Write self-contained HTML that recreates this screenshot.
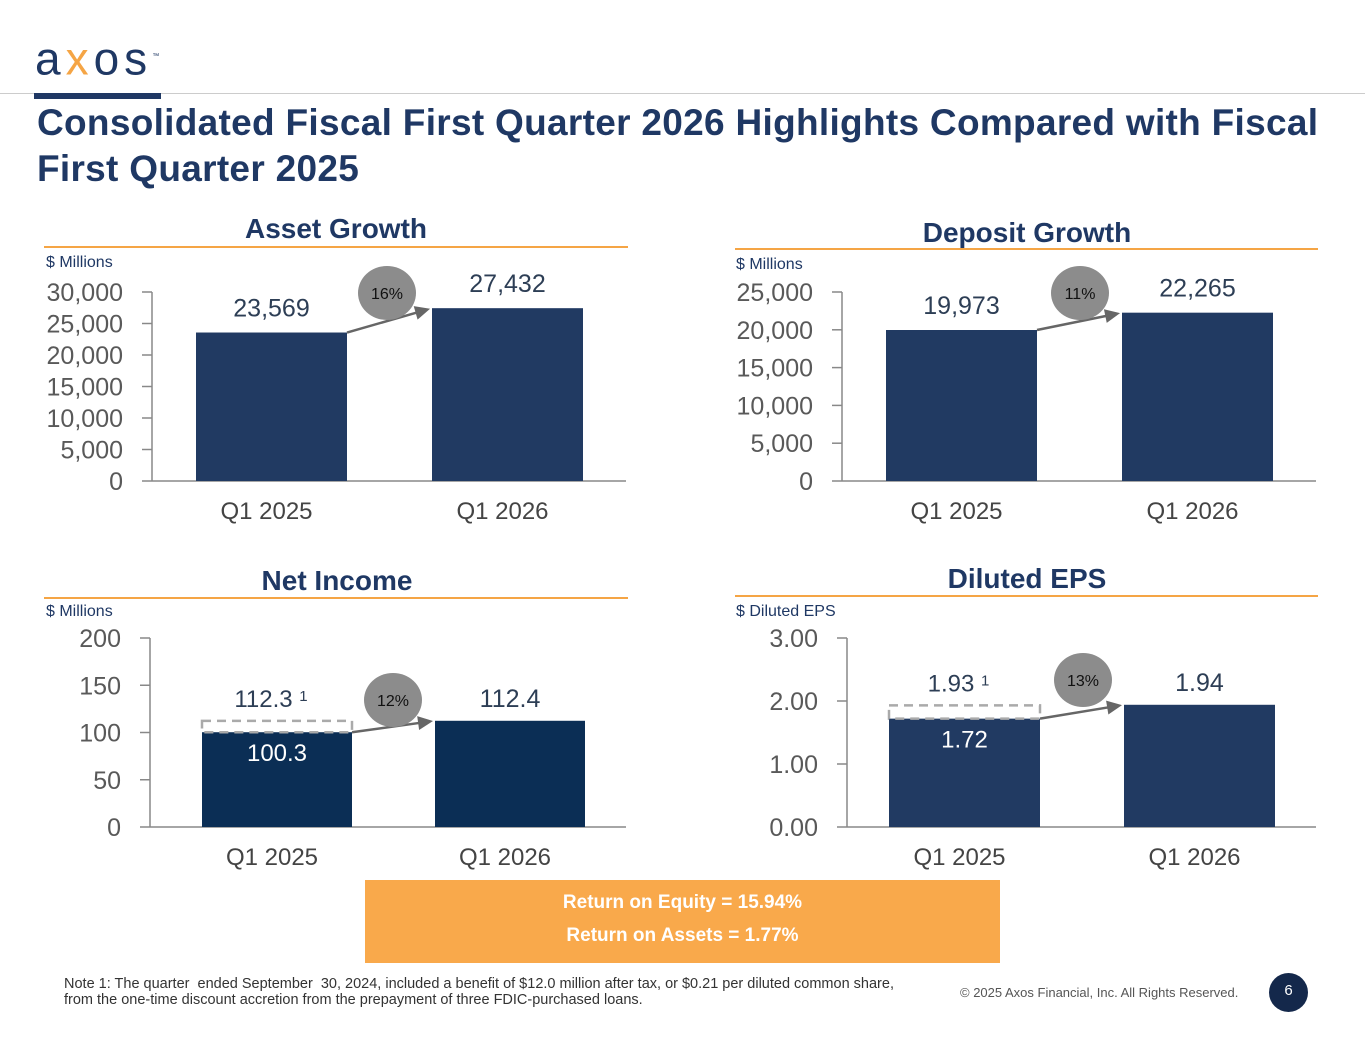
<!DOCTYPE html>
<html><head><meta charset="utf-8">
<style>
body{margin:0;background:#fff;font-family:"Liberation Sans",sans-serif;}
#page{position:relative;width:1365px;height:1055px;overflow:hidden;background:#fff;}
.abs{position:absolute;}
.title{left:37px;top:100px;font-size:37px;font-weight:bold;color:#1f3864;line-height:46px;letter-spacing:0.3px;white-space:nowrap;}
.sec{font-size:28px;font-weight:bold;color:#1f3864;text-align:center;width:400px;}
.uline{height:2px;background:#f5a545;}
.unit{font-size:16px;color:#1f3864;}
</style></head>
<body>
<div id="page">
  <div class="abs" style="left:35px;top:34px;font-size:46px;color:#1f3864;letter-spacing:5px;line-height:46px;">a<span style="color:#f5a545">x</span>os<sup style="font-size:7px;letter-spacing:0">™</sup></div>
  <div class="abs" style="left:0;top:93px;width:1365px;height:1px;background:#ccc;"></div>
  <div class="abs" style="left:34px;top:93px;width:127px;height:6px;background:#1f3864;"></div>
  <div class="abs title">Consolidated Fiscal First Quarter 2026 Highlights Compared with Fiscal<br>First Quarter 2025</div>

  <div class="abs sec" style="left:136px;top:213px;">Asset Growth</div>
  <div class="abs uline" style="left:44px;top:246px;width:584px;"></div>
  <div class="abs unit" style="left:46px;top:254px;">$ Millions</div>

  <div class="abs sec" style="left:827px;top:217px;">Deposit Growth</div>
  <div class="abs uline" style="left:735px;top:248px;width:583px;"></div>
  <div class="abs unit" style="left:736px;top:256px;">$ Millions</div>

  <div class="abs sec" style="left:137px;top:565px;">Net Income</div>
  <div class="abs uline" style="left:44px;top:597px;width:584px;"></div>
  <div class="abs unit" style="left:46px;top:603px;">$ Millions</div>

  <div class="abs sec" style="left:827px;top:563px;">Diluted EPS</div>
  <div class="abs uline" style="left:735px;top:595px;width:583px;"></div>
  <div class="abs unit" style="left:736px;top:603px;">$ Diluted EPS</div>

  <svg id="charts" class="abs" style="left:0;top:0" width="1365" height="1055"></svg>

  <div class="abs" style="left:365px;top:880px;width:635px;height:83px;background:#f9a94b;color:#fff;font-weight:bold;font-size:19px;text-align:center;">
    <div style="margin-top:12px;">Return on Equity = 15.94%</div>
    <div style="margin-top:11px;">Return on Assets = 1.77%</div>
  </div>
  <div class="abs" style="left:64px;top:976px;font-size:14.5px;color:#333;line-height:16px;white-space:nowrap;">Note 1: The quarter&nbsp; ended September&nbsp; 30, 2024, included a benefit of $12.0 million after tax, or $0.21 per diluted common share,<br>from the one-time discount accretion from the prepayment of three FDIC-purchased loans.</div>
  <div class="abs" style="left:960px;top:985px;font-size:13px;color:#555;">© 2025 Axos Financial, Inc. All Rights Reserved.</div>
  <div class="abs" style="left:1269px;top:973px;width:39px;height:39px;border-radius:50%;background:#14284b;color:#fff;font-size:15px;text-align:center;line-height:36px;">6</div>
</div>
<script>
const categories = ["Q1 2025","Q1 2026"];
const assetValues = [23569, 27432];
const assetTicks = [0,5000,10000,15000,20000,25000,30000];
const depositValues = [19973, 22265];
const depositTicks = [0,5000,10000,15000,20000,25000];
const netIncomeValues = [100.3, 112.4];
const netIncomeAdjusted = [112.3];
const netIncomeTicks = [0,50,100,150,200];
const epsValues = [1.72, 1.94];
const epsAdjusted = [1.93];
const epsTicks = [0.00,1.00,2.00,3.00];
const growthLabels = ["16%","11%","12%","13%"];

const NS="http://www.w3.org/2000/svg";
const svg=document.getElementById('charts');
function mk(tag,attrs,parent){const e=document.createElementNS(NS,tag);for(const k in attrs)e.setAttribute(k,attrs[k]);(parent||svg).appendChild(e);return e;}
function fmt(v,dec){return dec?v.toFixed(dec):v.toLocaleString('en-US');}

function chart(o){
  const g=mk('g',{});
  
  
  const max=o.ticks[o.ticks.length-1];
  const y=v=>o.base-(v/max)*(o.base-o.top);
  const ax=mk('line',{x1:o.axisX,y1:o.top,x2:o.axisX,y2:o.base,stroke:'#888','stroke-width':1.5},g);
  
  
  const bl=mk('line',{x1:o.axisX,y1:o.base,x2:o.axisEnd,y2:o.base,stroke:'#888','stroke-width':1.5},g);
  
  
  o.ticks.forEach(t=>{
    mk('line',{x1:o.axisX-10,y1:y(t),x2:o.axisX,y2:y(t),stroke:'#888','stroke-width':1.5},g);
    const tx=mk('text',{x:o.axisX-29,y:y(t)+9,'text-anchor':'end','font-size':25,fill:'#595959'},g);
    tx.textContent=fmt(t,o.dec);
    
    
  });
  const xs=o.barX;
  o.values.forEach((v,i)=>{
    const r=mk('rect',{x:xs[i],y:y(v),width:o.bw,height:o.base-y(v),fill:o.color},g);
    
    
    const c=mk('text',{x:xs[i]+o.bw/2-5,y:o.base+38,'text-anchor':'middle','font-size':24,fill:'#444'},g);
    c.textContent=categories[i];
    
    
  });
  o.values.forEach((v,i)=>{
    let inside = o.adj && i===0;
    if(inside){
      const ay=y(o.adj[0]);
      const d=mk('rect',{x:xs[0],y:ay,width:o.bw,height:y(v)-ay,fill:'none',stroke:'#aaa','stroke-width':2.5,'stroke-dasharray':'9,6'},g);
      
      
      const at=mk('text',{x:xs[0]+o.bw/2-6,y:ay-14,'text-anchor':'middle','font-size':24,fill:'#2d3e55'},g);
      at.textContent=fmt(o.adj[0],o.valDec)+' ';
      const sp=mk('tspan',{'font-size':15,dy:-6},at);sp.textContent=' 1';
      
      
      const it=mk('text',{x:xs[0]+o.bw/2,y:y(v)+29,'text-anchor':'middle','font-size':24,fill:'#fff'},g);
      it.textContent=fmt(v,o.valDec);
      
      
    } else {
      const t=mk('text',{x:xs[i]+o.bw/2,y:y(v)-(o.adj?14:16),'text-anchor':'middle','font-size':25,fill:'#2d3e55'},g);
      t.textContent=fmt(v,o.valDec);
      
      
    }
  });
  const x1=xs[0]+o.bw,y1=y(o.values[0]),x2=xs[1],y2=y(o.values[1]);
  const ang=Math.atan2(y2-y1,x2-x1);
  const ex=x2-2*Math.cos(ang), ey=y2-2*Math.sin(ang);
  const ar=mk('line',{x1:x1,y1:y1,x2:ex-12*Math.cos(ang),y2:ey-12*Math.sin(ang),stroke:'#666','stroke-width':2.5},g);
  
  
  const px=-Math.sin(ang),py=Math.cos(ang);
  mk('polygon',{points:`${ex},${ey} ${ex-15*Math.cos(ang)+7*px},${ey-15*Math.sin(ang)+7*py} ${ex-15*Math.cos(ang)-7*px},${ey-15*Math.sin(ang)-7*py}`,fill:'#666'},g);
  const b=mk('ellipse',{cx:o.bub[0],cy:o.bub[1],rx:29,ry:27,fill:'#8c8c8c'},g);
  
  
  const bt=mk('text',{x:o.bub[0],y:o.bub[1]+6,'text-anchor':'middle','font-size':16,fill:'#111'},g);
  bt.textContent=o.growth;
  
  
}
chart({name:'asset-growth-chart',values:assetValues,ticks:assetTicks,top:292,base:481,axisX:152,axisEnd:626,barX:[196,432],bw:151,color:'#213a62',bub:[387,293],growth:growthLabels[0]});
chart({name:'deposit-growth-chart',values:depositValues,ticks:depositTicks,top:292,base:481,axisX:842,axisEnd:1316,barX:[886,1122],bw:151,color:'#213a62',bub:[1080,293],growth:growthLabels[1]});
chart({name:'net-income-chart',values:netIncomeValues,adj:netIncomeAdjusted,ticks:netIncomeTicks,top:638,base:827,axisX:150,axisEnd:626,barX:[202,435],bw:150,color:'#0b2e55',bub:[393,700],growth:growthLabels[2],valDec:1});
chart({name:'diluted-eps-chart',values:epsValues,adj:epsAdjusted,ticks:epsTicks,top:638,base:827,axisX:847,axisEnd:1316,barX:[889,1124],bw:151,color:'#213a62',bub:[1083,680],growth:growthLabels[3],dec:2,valDec:2});
</script>
</body></html>
